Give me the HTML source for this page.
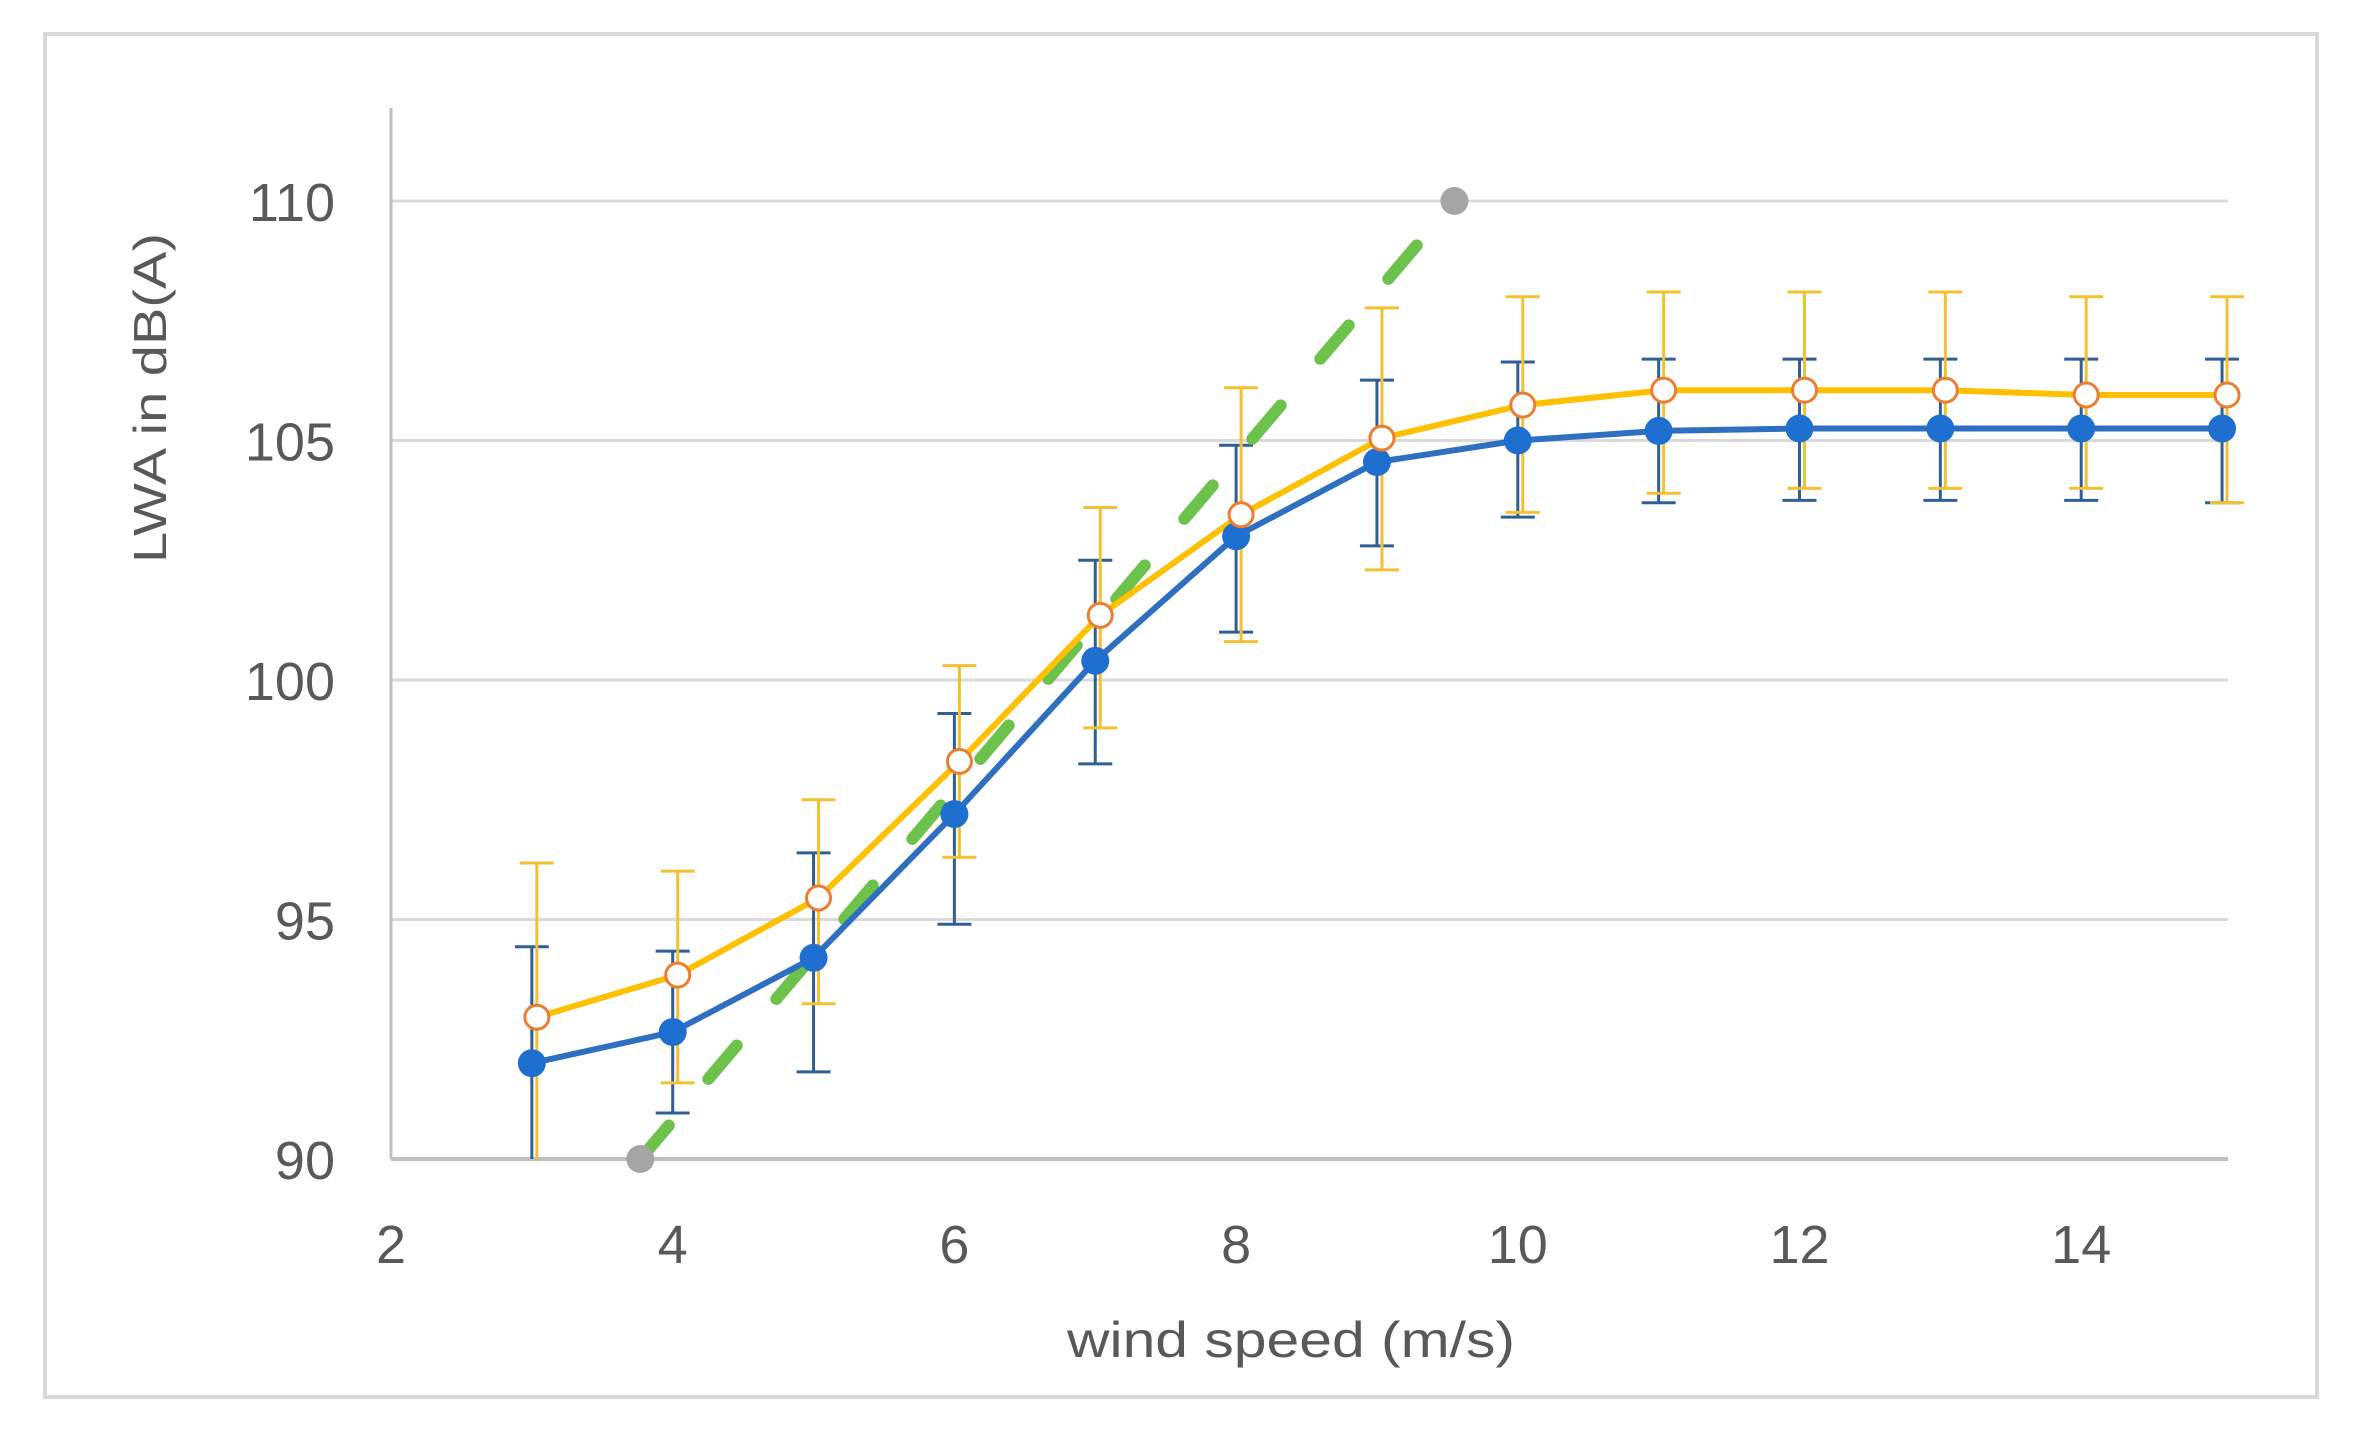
<!DOCTYPE html>
<html><head><meta charset="utf-8"><style>
html,body{margin:0;padding:0;background:#fff;}
svg{display:block;}
text{font-family:"Liberation Sans",sans-serif;fill:#595959;}
</style></head><body>
<svg id="chart" width="2361" height="1430" viewBox="0 0 2361 1430" xmlns="http://www.w3.org/2000/svg">
<rect x="45" y="34" width="2272" height="1363" fill="#fff" stroke="#d9d9d9" stroke-width="4"/>
<g id="grid"></g>
<g id="axes"></g>
<g id="series"></g>
<text transform="translate(166,398) rotate(-90)" text-anchor="middle" font-size="46" textLength="330" lengthAdjust="spacingAndGlyphs">LWA in dB(A)</text>
<text x="1291" y="1357" text-anchor="middle" font-size="50" textLength="448" lengthAdjust="spacingAndGlyphs">wind speed (m/s)</text>
</svg>
<script>
const xTicks = [2,4,6,8,10,12,14];
const yTicks = [90,95,100,105,110];
const windSpeeds = [3,4,5,6,7,8,9,10,11,12,13,14,15];
const blueValues = [92.0,92.65,94.2,97.2,100.4,103.0,104.55,105.0,105.2,105.25,105.25,105.25,105.25];
const blueErrHigh = [94.43,94.34,96.39,99.3,102.5,104.9,106.26,106.64,106.7,106.7,106.7,106.7,106.7];
const blueErrLow = [89.6,90.96,91.82,94.9,98.25,101.0,102.8,103.4,103.7,103.75,103.75,103.75,103.7];
const orangeValues = [92.96,93.84,95.45,98.3,101.35,103.45,105.05,105.74,106.05,106.05,106.05,105.95,105.95];
const orangeErrHigh = [96.18,96.01,97.5,100.3,103.6,106.1,107.77,108.0,108.1,108.1,108.1,108.0,108.0];
const orangeErrLow = [89.7,91.59,93.24,96.3,99.0,100.8,102.3,103.5,103.9,104.0,104.0,104.0,103.7];
const trendX = [3.77,9.55];
const trendY = [90,110];

const NS='http://www.w3.org/2000/svg';
const X0=391, XU=140.85, Y0=201, YU=47.9;
const sx=v=>X0+(v-2)*XU;
const sy=v=>Y0+(110-v)*YU;
const ORANGE_SHIFT=5;
function mk(tag,attrs,parent){const e=document.createElementNS(NS,tag);for(const k in attrs)e.setAttribute(k,attrs[k]);parent.appendChild(e);return e;}
const grid=document.getElementById('grid'),axes=document.getElementById('axes'),ser=document.getElementById('series');
const clipY=v=>Math.max(90,Math.min(112,v));

yTicks.forEach(t=>{
  if(t>90){const g=mk('line',{x1:X0,x2:2228,y1:sy(t),y2:sy(t),stroke:'#d9d9d9','stroke-width':3},grid);
  
  }
  const l=mk('text',{x:335,y:sy(t)+20,'text-anchor':'end','font-size':54},axes);
  l.textContent=t;
  
  
});
xTicks.forEach(t=>{
  const l=mk('text',{x:sx(t),y:1263,'text-anchor':'middle','font-size':54},axes);
  l.textContent=t;
  
  
});
const ya=mk('line',{x1:X0,x2:X0,y1:108,y2:sy(90),stroke:'#bfbfbf','stroke-width':3},axes);


const xa=mk('line',{x1:X0,x2:2228,y1:sy(90),y2:sy(90),stroke:'#bfbfbf','stroke-width':4},axes);



function errBars(vals,hi,lo,shift,color,name){
  windSpeeds.forEach((w,i)=>{
    const x=sx(w)+shift, yt=sy(clipY(hi[i])), yb=sy(clipY(lo[i]));
    const g=mk('g',{stroke:color,'stroke-width':3},ser);
    
    
    mk('line',{x1:x,x2:x,y1:yt,y2:yb},g);
    mk('line',{x1:x-17,x2:x+17,y1:yt,y2:yt},g);
    if(lo[i]>=90) mk('line',{x1:x-17,x2:x+17,y1:yb,y2:yb},g);
  });
}
errBars(blueValues,blueErrHigh,blueErrLow,0,'#2f5f95','blue');
errBars(orangeValues,orangeErrHigh,orangeErrLow,ORANGE_SHIFT,'#f2c131','orange');

const tl=mk('line',{x1:sx(trendX[0]),y1:sy(trendY[0]),x2:sx(trendX[1]),y2:sy(trendY[1]),stroke:'#6cc24a','stroke-width':12,'stroke-linecap':'round','stroke-dasharray':'44 61'},ser);


trendX.forEach((t,i)=>{
  const c=mk('circle',{cx:sx(t),cy:sy(trendY[i]),r:14,fill:'#a5a5a5'},ser);
  
  
});

const op=mk('polyline',{points:windSpeeds.map((w,i)=>(sx(w)+ORANGE_SHIFT)+','+sy(orangeValues[i])).join(' '),fill:'none',stroke:'#ffc000','stroke-width':6,'stroke-linejoin':'round'},ser);


const bp=mk('polyline',{points:windSpeeds.map((w,i)=>sx(w)+','+sy(blueValues[i])).join(' '),fill:'none',stroke:'#2e6fc0','stroke-width':6,'stroke-linejoin':'round'},ser);



windSpeeds.forEach((w,i)=>{
  const c=mk('circle',{cx:sx(w),cy:sy(blueValues[i]),r:14,fill:'#1f6fd0'},ser);
  
  
  const o=mk('circle',{cx:sx(w)+ORANGE_SHIFT,cy:sy(orangeValues[i]),r:12,fill:'#fff',stroke:'#ed7d31','stroke-width':3},ser);
  
  
});
</script>
</body></html>
